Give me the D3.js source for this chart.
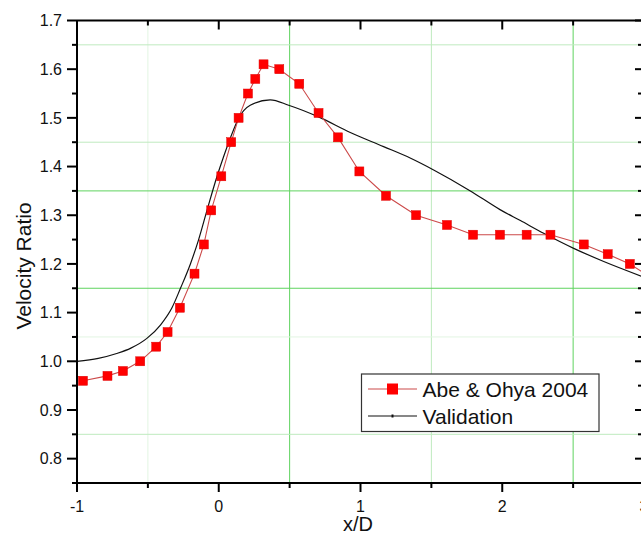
<!DOCTYPE html>
<html>
<head>
<meta charset="utf-8">
<script src="https://cdn.jsdelivr.net/npm/d3@7"></script>
<style>
  html, body { margin: 0; padding: 0; background: #fff; }
  svg { display: block; font-family: "Liberation Sans", Arial, sans-serif; }
</style>
</head>
<body>
<svg id="chart" width="641" height="536"></svg>
<script>
// ---- data ----
const abeX = [-0.958, -0.785, -0.676, -0.554, -0.441, -0.361, -0.274, -0.171, -0.105, -0.053,
              0.018, 0.088, 0.140, 0.206, 0.258, 0.316, 0.427, 0.568, 0.704, 0.841, 0.992,
              1.180, 1.392, 1.610, 1.794, 1.984, 2.172, 2.340, 2.575, 2.744, 2.900, 3.060];
const abeY = [0.96, 0.97, 0.98, 1.00, 1.03, 1.06, 1.11, 1.18, 1.24, 1.31,
              1.38, 1.45, 1.50, 1.55, 1.58, 1.61, 1.60, 1.57, 1.51, 1.46, 1.39,
              1.34, 1.30, 1.28, 1.26, 1.26, 1.26, 1.26, 1.24, 1.22, 1.20, 1.17];
const valX = [-1.0, -0.85, -0.72, -0.62, -0.507, -0.41, -0.33, -0.27, -0.2, -0.143, -0.083, -0.013, 0.034,
              0.104, 0.14, 0.222, 0.363, 0.493, 0.704, 0.928, 1.163, 1.354, 1.516,
              1.775, 1.987, 2.128, 2.292, 2.504, 2.716, 2.98];
const valY = [1.0, 1.006, 1.016, 1.027, 1.047, 1.075, 1.11, 1.15, 1.20, 1.249, 1.31, 1.379, 1.42,
              1.475, 1.499, 1.526, 1.537, 1.526, 1.502, 1.47, 1.441, 1.417, 1.393,
              1.35, 1.311, 1.289, 1.263, 1.232, 1.205, 1.175];
const xMajorTicks = [-1, 0, 1, 2, 3];
const xMinorTicks = [-0.5, 0.5, 1.5, 2.5];
const yMajorTicks = [0.8, 0.9, 1.0, 1.1, 1.2, 1.3, 1.4, 1.5, 1.6, 1.7];
const yMinorTicks = [0.75, 0.85, 0.95, 1.05, 1.15, 1.25, 1.35, 1.45, 1.55, 1.65];
const xGrid = [-0.5, 0.5, 1.5, 2.5];
const yGrid = [0.85, 1.05, 1.15, 1.35, 1.45, 1.65];
const seriesNames = ["Abe & Ohya 2004", "Validation"];
const xTitle = "x/D";
const yTitle = "Velocity Ratio";

// ---- layout ----
const L = 77, R = 644, T = 20.5, B = 483;
const x = d3.scaleLinear().domain([-1, 3]).range([L, R]);
const y = d3.scaleLinear().domain([0.75, 1.7]).range([B, T]);
const svg = d3.select("#chart");

// grid strength (visual emphasis as in reference)
const gridColor = v => {
  const strong = [0.5, 2.5, 1.15, 1.35];
  const faint = [-0.5, 1.05];
  if (strong.some(s => Math.abs(s - v) < 1e-9)) return "#5fd35f";
  if (faint.some(s => Math.abs(s - v) < 1e-9)) return "#e2f5e2";
  return "#bfeabf";
};

const grid = svg.append("g");
grid.selectAll("line.vx").data(xGrid).join("line")
  .attr("x1", d => x(d)).attr("x2", d => x(d)).attr("y1", T).attr("y2", B)
  .attr("stroke", d => gridColor(d)).attr("stroke-width", 1);
grid.selectAll("line.hy").data(yGrid).join("line")
  .attr("x1", L).attr("x2", R).attr("y1", d => y(d)).attr("y2", d => y(d))
  .attr("stroke", d => gridColor(d)).attr("stroke-width", 1);

// clip
svg.append("clipPath").attr("id", "plotclip").append("rect")
  .attr("x", L).attr("y", T).attr("width", R - L).attr("height", B - T);

const plot = svg.append("g").attr("clip-path", "url(#plotclip)");

// Validation curve
const valData = valX.map((v, i) => [v, valY[i]]);
plot.append("path").datum(valData)
  .attr("fill", "none").attr("stroke", "#111").attr("stroke-width", 1.2)
  .attr("d", d3.line().x(d => x(d[0])).y(d => y(d[1])).curve(d3.curveMonotoneX));

// Abe & Ohya series
const abeData = abeX.map((v, i) => [v, abeY[i]]);
plot.append("path").datum(abeData)
  .attr("fill", "none").attr("stroke", "#cc4a4a").attr("stroke-width", 1.1)
  .attr("d", d3.line().x(d => x(d[0])).y(d => y(d[1])));
const ms = 9;
plot.selectAll("rect.m").data(abeData).join("rect")
  .attr("x", d => x(d[0]) - ms / 2).attr("y", d => y(d[1]) - ms / 2)
  .attr("width", ms).attr("height", ms)
  .attr("fill", "#ff0000").attr("stroke", "#e00000").attr("stroke-width", 0.5);

// axes
const ax = svg.append("g").attr("stroke", "#000").attr("stroke-width", 2);
ax.append("line").attr("x1", L).attr("x2", L).attr("y1", T).attr("y2", B);
ax.append("line").attr("x1", L).attr("x2", R).attr("y1", B).attr("y2", B);
ax.append("line").attr("x1", L).attr("x2", R).attr("y1", T).attr("y2", T);
ax.append("line").attr("x1", R).attr("x2", R).attr("y1", T).attr("y2", B);

// left ticks (outward)
ax.selectAll("line.ly").data(yMajorTicks).join("line")
  .attr("x1", L - 10).attr("x2", L).attr("y1", d => y(d)).attr("y2", d => y(d));
ax.selectAll("line.lym").data(yMinorTicks).join("line")
  .attr("x1", L - 5).attr("x2", L).attr("y1", d => y(d)).attr("y2", d => y(d));
// right ticks (inward)
ax.selectAll("line.ry").data(yMajorTicks).join("line")
  .attr("x1", R - 9).attr("x2", R).attr("y1", d => y(d)).attr("y2", d => y(d));
ax.selectAll("line.rym").data(yMinorTicks).join("line")
  .attr("x1", R - 6).attr("x2", R).attr("y1", d => y(d)).attr("y2", d => y(d));
// bottom ticks (outward)
ax.selectAll("line.bx").data(xMajorTicks).join("line")
  .attr("x1", d => x(d)).attr("x2", d => x(d)).attr("y1", B).attr("y2", B + 9);
ax.selectAll("line.bxm").data(xMinorTicks).join("line")
  .attr("x1", d => x(d)).attr("x2", d => x(d)).attr("y1", B).attr("y2", B + 5);
// top ticks (inward)
ax.selectAll("line.tx").data(xMajorTicks).join("line")
  .attr("x1", d => x(d)).attr("x2", d => x(d)).attr("y1", T).attr("y2", T + 9);
ax.selectAll("line.txm").data(xMinorTicks).join("line")
  .attr("x1", d => x(d)).attr("x2", d => x(d)).attr("y1", T).attr("y2", T + 5);

// tick labels
const fmtY = d3.format(".1f");
svg.append("g").selectAll("text").data(yMajorTicks).join("text")
  .attr("x", 62).attr("y", d => y(d)).attr("dy", "0.36em")
  .attr("text-anchor", "end").attr("font-size", 16).attr("fill", "#111")
  .text(d => fmtY(d));
svg.append("g").selectAll("text").data(xMajorTicks).join("text")
  .attr("x", d => x(d)).attr("y", 511.5)
  .attr("text-anchor", "middle").attr("font-size", 16).attr("fill", "#111")
  .text(d => String(d));

// axis titles
svg.append("text").attr("x", 358).attr("y", 531).attr("text-anchor", "middle")
  .attr("font-size", 20).attr("fill", "#111").text(xTitle);
svg.append("text").attr("transform", "translate(31,266) rotate(-90)")
  .attr("text-anchor", "middle").attr("font-size", 21).attr("fill", "#111").text(yTitle);

// legend
const lg = svg.append("g");
lg.append("rect").attr("x", 361.5).attr("y", 374).attr("width", 237.5).attr("height", 57.5)
  .attr("fill", "#fff").attr("stroke", "#333").attr("stroke-width", 1.2);
lg.append("line").attr("x1", 368).attr("x2", 417).attr("y1", 389).attr("y2", 389)
  .attr("stroke", "#cc4a4a").attr("stroke-width", 1.1);
lg.append("rect").attr("x", 392.5 - 5.5).attr("y", 389 - 5.5).attr("width", 11).attr("height", 11)
  .attr("fill", "#ff0000");
lg.append("line").attr("x1", 368).attr("x2", 417).attr("y1", 416).attr("y2", 416)
  .attr("stroke", "#111").attr("stroke-width", 1.1);
lg.append("rect").attr("x", 391.5).attr("y", 414.5).attr("width", 2).attr("height", 3).attr("fill", "#111");
lg.selectAll("text").data(seriesNames).join("text")
  .attr("x", 422.5).attr("y", (d, i) => 396.5 + i * 27)
  .attr("font-size", 21).attr("fill", "#111").text(d => d);
</script>
</body>
</html>
